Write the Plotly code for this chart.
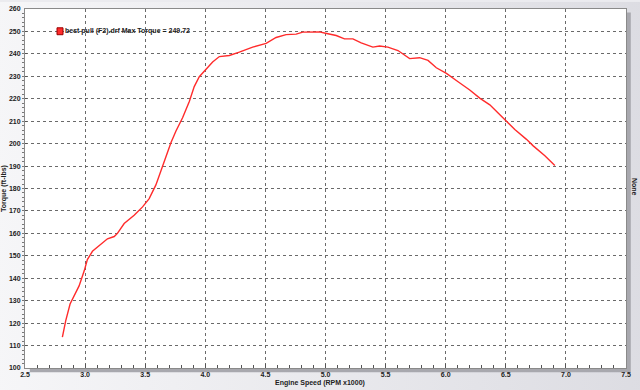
import plotly.graph_objects as go

rpm = [2.811, 2.839, 2.875, 2.908, 2.95, 2.992, 3.019, 3.061, 3.117, 3.186, 3.242, 3.269,
       3.325, 3.408, 3.478, 3.533, 3.589, 3.644, 3.714, 3.756, 3.811, 3.867, 3.908, 3.95,
       4.006, 4.061, 4.117, 4.2, 4.283, 4.394, 4.506, 4.589, 4.672, 4.756, 4.811, 4.894,
       4.95, 5.0, 5.089, 5.158, 5.228, 5.297, 5.394, 5.45, 5.519, 5.603, 5.658, 5.7,
       5.783, 5.853, 5.922, 6.006, 6.103, 6.2, 6.283, 6.367, 6.436, 6.506, 6.575, 6.672,
       6.728, 6.825, 6.908]
torque = [113.8, 121.1, 128.5, 132.2, 136.6, 143.2, 148.3, 152.0, 154.5, 157.6, 158.6, 160.0,
          164.4, 168.1, 171.8, 175.5, 181.6, 189.8, 200.4, 205.6, 211.5, 218.8, 225.4, 229.8,
          233.2, 236.4, 238.8, 239.3, 240.8, 243.0, 244.7, 247.3, 248.6, 248.8, 249.7, 249.7,
          249.8, 249.2, 248.2, 246.7, 246.7, 244.9, 243.0, 243.5, 243.0, 241.5, 239.3, 237.9,
          238.3, 237.1, 233.8, 231.3, 227.6, 223.9, 220.3, 217.3, 213.7, 210.0, 206.3, 201.9,
          199.0, 194.6, 190.2]

legend_label = "best pull (F2).drf Max Torque = 249.72"
x_title = "Engine Speed (RPM x1000)"
y_title = "Torque (ft-lbs)"
right_label = "None"

FONT = "Liberation Sans"
FS = 7
RED = "#ff2b2b"

fig = go.Figure()
fig.add_trace(go.Scatter(x=rpm, y=torque, mode="lines", name=legend_label,
                         line=dict(color=RED, width=1.4), showlegend=False))

gradient_svg = ("data:image/svg+xml;utf8,"
                "<svg xmlns='http://www.w3.org/2000/svg' width='640' height='390'>"
                "<defs><linearGradient id='g' x1='0' y1='0' x2='1' y2='0'>"
                "<stop offset='0' stop-color='%23f6f6f8'/>"
                "<stop offset='1' stop-color='%23dcdce2'/>"
                "</linearGradient></defs>"
                "<rect width='640' height='390' fill='url(%23g)'/></svg>")

# plot area: 601 px wide (x 25..626), 363 px tall (y 5..368)
PW, PH = 601.0, 363.0

fig.update_layout(
    width=640, height=390,
    margin=dict(l=25, r=14, t=5, b=22),
    paper_bgcolor="#ebebef",
    plot_bgcolor="white",
    font=dict(family=FONT, size=FS, color="#222"),
    showlegend=False,
    images=[dict(source=gradient_svg, xref="paper", yref="paper", x=-0.05, y=1.02,
                 sizex=1.1, sizey=1.1, sizing="stretch", layer="below",
                 xanchor="left", yanchor="top")],
    shapes=[
        dict(type="rect", xref="paper", yref="paper", x0=0.008, x1=1.008, y0=-0.012, y1=0.99,
             fillcolor="#a8a8ae", line=dict(width=0), layer="below"),
        dict(type="rect", xref="paper", yref="paper", x0=0, x1=1, y0=0, y1=1,
             fillcolor="white", line=dict(width=0), layer="below"),
        # legend swatch
        dict(type="rect", xref="paper", yref="paper",
             x0=(57 - 25) / PW, x1=(63 - 25) / PW,
             y0=(368 - 31) / PH, y1=(368 - 24) / PH,
             fillcolor=RED, line=dict(color="#9a0000", width=1), layer="above"),
    ],
    annotations=[
        dict(text="<b>" + legend_label + "</b>", xref="paper", yref="paper",
             x=(63 - 25) / PW, y=(368 - 27.5) / PH, xanchor="left", yanchor="middle",
             showarrow=False, font=dict(family=FONT, size=FS, color="#222")),
        dict(text="<b>" + x_title + "</b>", xref="paper", yref="paper", x=(320 - 25) / PW,
             y=(368 - 383) / PH, xanchor="center", yanchor="middle", showarrow=False,
             font=dict(family=FONT, size=FS, color="#222")),
        dict(text="<b>" + y_title + "</b>", xref="paper", yref="paper",
             x=(25 - 4) / -PW, y=(368 - 187) / PH,
             xanchor="center", yanchor="middle", textangle=-90, showarrow=False,
             font=dict(family=FONT, size=FS, color="#222")),
        dict(text="<b>" + right_label + "</b>", xref="paper", yref="paper",
             x=(635 - 25) / PW, y=(368 - 185) / PH,
             xanchor="center", yanchor="middle", textangle=90, showarrow=False,
             font=dict(family=FONT, size=FS, color="#222")),
    ],
)

fig.update_xaxes(range=[2.5, 7.5], dtick=0.5, tick0=2.5, tickformat=".1f",
                 showgrid=True, gridcolor="#6a6a6a", griddash="dot", gridwidth=1,
                 showline=True, linecolor="#8a8a8a", linewidth=1, mirror=True,
                 ticks="inside", ticklen=4, tickcolor="#555",
                 minor=dict(dtick=0.1, ticks="inside", ticklen=3, tickcolor="#555", showgrid=False),
                 tickfont=dict(family=FONT, size=FS, color="#222", weight="bold"),
                 zeroline=False)
fig.update_yaxes(range=[100, 260], dtick=10, tick0=100,
                 showgrid=True, gridcolor="#6a6a6a", griddash="dot", gridwidth=1,
                 showline=True, linecolor="#8a8a8a", linewidth=1, mirror=True,
                 ticks="inside", ticklen=2, tickcolor="#555",
                 minor=dict(dtick=2, ticks="outside", ticklen=2, tickcolor="#777", showgrid=False),
                 tickfont=dict(family=FONT, size=FS, color="#222", weight="bold"),
                 ticklabelstandoff=2, zeroline=False)

fig.write_html("out.html")
